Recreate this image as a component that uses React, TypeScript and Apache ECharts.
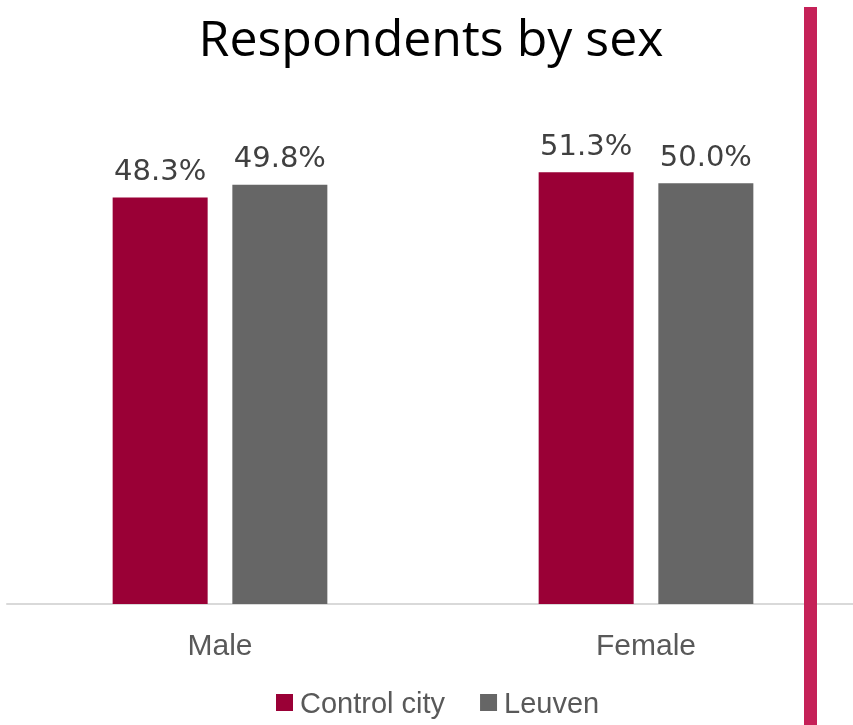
import React, { useEffect, useRef } from "react";
import * as echarts from "echarts";

const categories = ["Male", "Female"];
const controlCity = [48.3, 51.3];
const leuven = [49.8, 50.0];
const seriesNames = ["Control city", "Leuven"];

export default function App() {
  const ref = useRef<HTMLDivElement>(null);
  useEffect(() => {
    if (!ref.current) return;
    const chart = echarts.init(ref.current, null, { renderer: "svg" });
    const labelStyle = {
      show: true,
      position: "top" as const,
      distance: 13,
      fontFamily: "DejaVu Sans",
      fontSize: 29,
      color: "#404040",
      formatter: (p: any) => p.value.toFixed(1) + "%",
    };
    chart.setOption({
      animation: false,
      title: {
        text: "Respondents by sex",
        left: 426,
        top: 7,
        textAlign: "center",
        textStyle: {
          fontFamily: "Open Sans",
          fontWeight: "normal",
          fontSize: 50,
          color: "#000000",
        },
      },
      legend: {
        data: seriesNames,
        left: 276,
        top: 688,
        padding: 0,
        itemWidth: 17,
        itemHeight: 17,
        itemGap: 35,
        icon: "rect",
        textStyle: {
          fontFamily: "Liberation Sans",
          fontSize: 29,
          color: "#595959",
          padding: [0, 0, 0, 2],
        },
      },
      grid: { left: 7, top: 99, width: 852, height: 505, containLabel: false },
      xAxis: {
        type: "category",
        data: categories,
        axisLine: { lineStyle: { color: "#D9D9D9", width: 2 } },
        axisTick: { show: false },
        axisLabel: {
          margin: 25,
          fontFamily: "Liberation Sans",
          fontSize: 30,
          color: "#595959",
        },
      },
      yAxis: {
        type: "value",
        min: 0,
        max: 60,
        show: false,
        splitLine: { show: false },
      },
      series: [
        {
          name: seriesNames[0],
          type: "bar",
          data: controlCity,
          barWidth: 95,
          barGap: "26%",
          itemStyle: { color: "#9A0036" },
          label: labelStyle,
        },
        {
          name: seriesNames[1],
          type: "bar",
          data: leuven,
          barWidth: 95,
          barGap: "26%",
          itemStyle: { color: "#666666" },
          label: labelStyle,
        },
      ],
      graphic: [
        {
          type: "rect",
          shape: { x: 804, y: 7, width: 13, height: 730 },
          style: { fill: "#C52158" },
          z: 100,
        },
      ],
    });
    return () => chart.dispose();
  }, []);
  return (
    <div
      style={{
        position: "fixed",
        left: 0,
        top: 0,
        width: 853,
        height: 725,
        overflow: "hidden",
      }}
    >
      <div ref={ref} style={{ width: 880, height: 725 }} />
    </div>
  );
}
